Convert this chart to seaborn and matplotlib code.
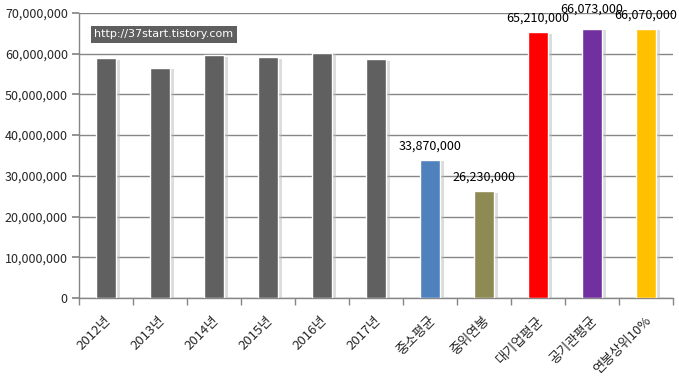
import matplotlib
matplotlib.use("Agg")
import matplotlib.pyplot as plt
import matplotlib.patheffects as pe
from matplotlib.ticker import FuncFormatter, MultipleLocator, FixedLocator
from matplotlib.transforms import ScaledTranslation
import seaborn as sns
import pandas as pd

categories = ["2012년", "2013년", "2014년", "2015년", "2016년", "2017년",
              "중소평균", "중위연봉", "대기업평균", "공기관평균", "연봉상위10%"]
values = [58900000, 56600000, 59600000, 59100000, 60200000, 58600000,
          33870000, 26230000, 65210000, 66073000, 66070000]
colors = ["#606060", "#606060", "#606060", "#606060", "#606060", "#606060",
          "#4F81BD", "#8E8A53", "#FF0000", "#7030A0", "#FFC000"]
labeled = [False, False, False, False, False, False, True, True, True, True, True]
watermark = "http://37start.tistory.com"

sns.set_theme(style="white")
plt.rcParams["font.family"] = ["Noto Sans CJK KR", "DejaVu Sans"]

df = pd.DataFrame({"cat": categories, "val": values})

fig = plt.figure(figsize=(6.79, 3.80), dpi=100)
ax = fig.add_axes([0.1163, 0.2158, 0.875, 0.75])

sns.barplot(data=df, x="cat", y="val", hue="cat", palette=colors, legend=False,
            width=0.38, saturation=1, ax=ax, zorder=3)

for p in ax.patches:
    p.set_path_effects([pe.SimplePatchShadow(offset=(2.5, -1), shadow_rgbFace="#bbbbbb", alpha=0.5),
                        pe.Normal()])

ax.set_ylim(0, 70000000)
ax.set_xlim(-0.5, len(categories) - 0.5)
ax.yaxis.set_major_locator(MultipleLocator(10000000))
ax.yaxis.set_major_formatter(FuncFormatter(lambda v, _: f"{int(v):,}"))
ax.grid(axis="y", color="#868686", linewidth=1, zorder=0)
ax.grid(axis="x", visible=False)
ax.set_axisbelow(True)

for s in ["top", "right"]:
    ax.spines[s].set_visible(False)
for s in ["left", "bottom"]:
    ax.spines[s].set_color("#868686")
    ax.spines[s].set_linewidth(1)

ax.tick_params(axis="y", which="major", direction="out", length=5, color="#868686",
               labelsize=9, pad=3, left=True)
ax.tick_params(axis="x", which="major", length=0, labelsize=9.5, pad=15)
ax.xaxis.set_minor_locator(FixedLocator([i + 0.5 for i in range(-1, len(categories))]))
ax.tick_params(axis="x", which="minor", direction="out", length=5, color="#868686", bottom=True)
shift = ScaledTranslation(3 / 100, 0, fig.dpi_scale_trans)
for lbl in ax.get_xticklabels():
    lbl.set_rotation(45)
    lbl.set_ha("right")
    lbl.set_va("center")
    lbl.set_rotation_mode("anchor")
    lbl.set_transform(lbl.get_transform() + shift)

ax.set_xlabel("")
ax.set_ylabel("")

offsets = [0, 0, 0, 0, 0, 0, 14, 14, 14, 20, 14]
for i, (v, show) in enumerate(zip(values, labeled)):
    if show:
        ax.annotate(f"{v:,}", xy=(i, v), xytext=(0, offsets[i]),
                    textcoords="offset pixels", ha="center", va="center",
                    fontsize=9, color="black", zorder=5)

ax.text(0.026, 0.925, watermark, transform=ax.transAxes, ha="left", va="center",
        fontsize=8, color="white", family=["DejaVu Sans"],
        bbox=dict(boxstyle="square,pad=0.3", facecolor="#5f5f5f", edgecolor="none"),
        zorder=6)

fig.savefig("out.png", dpi=100)
